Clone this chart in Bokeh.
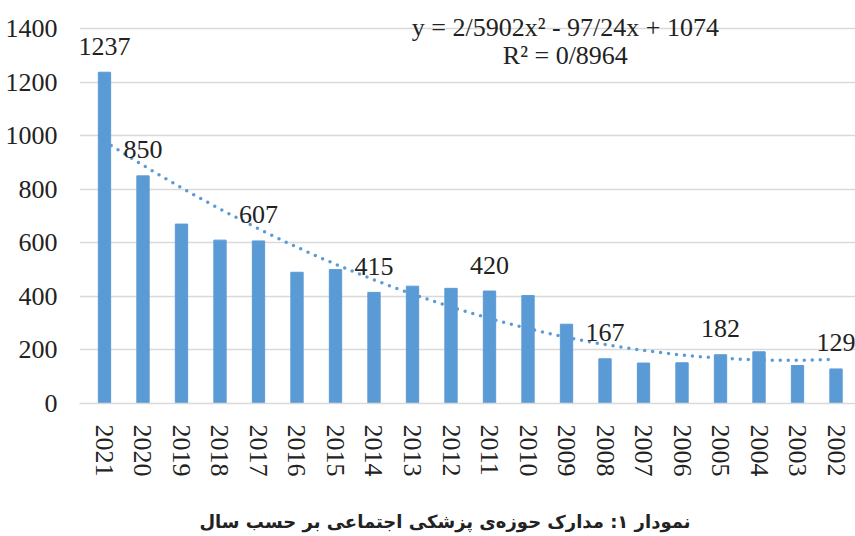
from bokeh.plotting import figure
from bokeh.models import ColumnDataSource, Label, FixedTicker, Div
from bokeh.layouts import column
from bokeh.embed import file_html
from bokeh.resources import INLINE
from bokeh.core.properties import value
import numpy as np

# ---- data ----
years = ["2021", "2020", "2019", "2018", "2017", "2016", "2015", "2014", "2013", "2012",
         "2011", "2010", "2009", "2008", "2007", "2006", "2005", "2004", "2003", "2002"]
counts = [1237, 850, 670, 610, 607, 490, 500, 415, 438, 430,
          420, 403, 296, 167, 151, 152, 182, 193, 142, 129]
labeled_years = ["2021", "2020", "2017", "2014", "2011", "2008", "2005", "2002"]
y_ticks = [0, 200, 400, 600, 800, 1000, 1200, 1400]
# polynomial trendline coefficients (from equation shown on chart)
trend_a, trend_b, trend_c = 2.5902, -97.24, 1074.0
equation_text = "y = 2/5902x\u00b2 - 97/24x + 1074"
r2_text = "R\u00b2 = 0/8964"
title_text = "نمودار ۱: مدارک حوزه\u200cی پزشکی اجتماعی بر حسب سال"

BAR = "#5B9BD5"
TXT = "#222222"
SERIF = "Tinos"
FS = "26px"

x_pos = np.arange(1, len(years) + 1)
src = ColumnDataSource(dict(x=x_pos, count=counts))
lab_idx = [years.index(y) for y in labeled_years]
lsrc = ColumnDataSource(dict(x=[x_pos[i] for i in lab_idx],
                             count=[counts[i] for i in lab_idx],
                             label=[str(counts[i]) for i in lab_idx]))

p = figure(x_range=(0.351, 20.506), y_range=(0, 1460),
           width=855, height=479, output_backend="svg", toolbar_location=None,
           min_border_left=79, min_border_right=0, min_border_top=12,
           min_border_bottom=75)
p.outline_line_color = None
p.background_fill_color = "white"

p.vbar(x="x", top="count", width=0.32, source=src, color=BAR)

t = np.linspace(1, len(years), 300)
ty = trend_a * t ** 2 + trend_b * t + trend_c
p.line(t, ty, line_color=BAR, line_width=3.5, line_dash="0 8", line_cap="round")

p.text(x="x", y="count", text="label", source=lsrc, text_font=value(SERIF),
       text_font_size=FS, text_align="center", text_baseline="middle",
       y_offset=-26, text_color=TXT)

p.add_layout(Label(x=12.97, y=1403, text=equation_text, text_font=SERIF,
                   text_font_size=FS, text_align="center",
                   text_baseline="middle", text_color=TXT))
p.add_layout(Label(x=12.97, y=1299, text=r2_text, text_font=SERIF,
                   text_font_size=FS, text_align="center",
                   text_baseline="middle", text_color=TXT))

p.xgrid.grid_line_color = None
p.ygrid.grid_line_color = "#d9d9d9"
p.ygrid.grid_line_width = 1.3
p.yaxis.ticker = FixedTicker(ticks=y_ticks)
p.yaxis.axis_line_color = None
p.yaxis.major_tick_line_color = None
p.yaxis.minor_tick_line_color = None
p.yaxis.major_label_standoff = 16
p.yaxis.major_label_text_font = SERIF
p.yaxis.major_label_text_font_size = FS
p.yaxis.major_label_text_color = TXT

p.xaxis.ticker = FixedTicker(ticks=[int(v) for v in x_pos])
p.xaxis.major_label_overrides = {int(v): y for v, y in zip(x_pos, years)}
p.xaxis.axis_line_color = "#d9d9d9"
p.xaxis.axis_line_width = 1.3
p.xaxis.major_tick_line_color = None
p.xaxis.minor_tick_line_color = None
p.xaxis.major_label_orientation = "vertical"
p.xaxis.major_label_standoff = 15
p.xaxis.major_label_text_font = SERIF
p.xaxis.major_label_text_font_size = FS
p.xaxis.major_label_text_color = TXT

caption = Div(text=title_text, width=855, height=57,
              styles={"font-family": "DejaVu Sans", "font-weight": "bold",
                      "font-size": "18px", "line-height": "20px",
                      "color": TXT, "text-align": "center", "direction": "rtl",
                      "box-sizing": "border-box", "padding-top": "28px",
                      "padding-left": "25px"})

layout = column(p, caption, spacing=0)
open("out.html", "w").write(file_html(layout, INLINE))
